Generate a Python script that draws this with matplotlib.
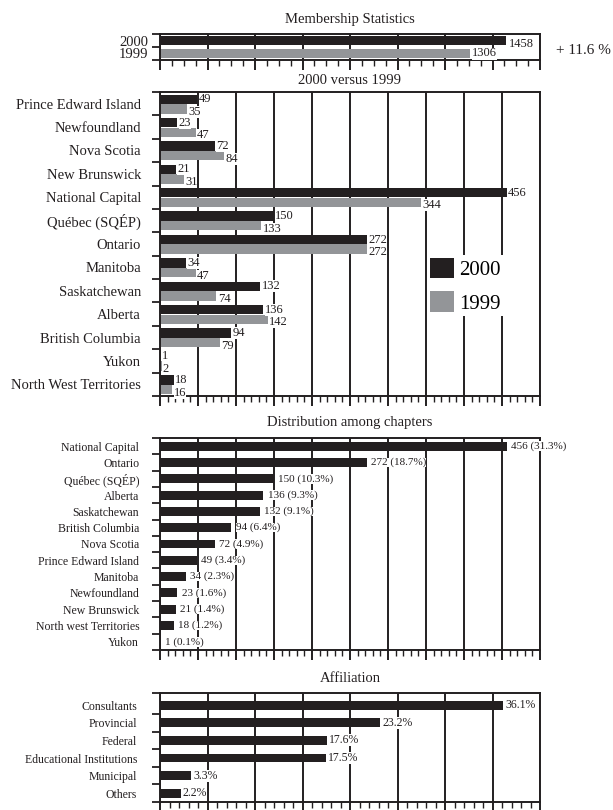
import matplotlib.pyplot as plt
from matplotlib.ticker import MultipleLocator

plt.rcParams['font.family'] = ['Liberation Serif', 'DejaVu Serif']

# membership totals
years = ["2000", "1999"]
totals = [1458, 1306]
growth = "+ 11.6 %"

# 2000 versus 1999 by chapter
chapters = ["Prince Edward Island", "Newfoundland", "Nova Scotia", "New Brunswick",
            "National Capital", "Québec (SQÉP)", "Ontario", "Manitoba", "Saskatchewan",
            "Alberta", "British Columbia", "Yukon", "North West Territories"]
members_2000 = [49, 23, 72, 21, 456, 150, 272, 34, 132, 136, 94, 1, 18]
members_1999 = [35, 47, 84, 31, 344, 133, 272, 47, 74, 142, 79, 2, 16]

# distribution among chapters
dist_chapters = ["National Capital", "Ontario", "Québec (SQÉP)", "Alberta", "Saskatchewan",
                 "British Columbia", "Nova Scotia", "Prince Edward Island", "Manitoba",
                 "Newfoundland", "New Brunswick", "North west Territories", "Yukon"]
dist_members = [456, 272, 150, 136, 132, 94, 72, 49, 34, 23, 21, 18, 1]
dist_pct = ["31.3", "18.7", "10.3", "9.3", "9.1", "6.4", "4.9", "3.4", "2.3", "1.6", "1.4", "1.2", "0.1"]

# affiliation
affiliations = ["Consultants", "Provincial", "Federal", "Educational Institutions", "Municipal", "Others"]
affil_pct = [36.1, 23.2, 17.6, 17.5, 3.3, 2.2]

ink = '#231f20'
grey = '#939598'

fig = plt.figure(figsize=(6.13, 8.10), dpi=100)


def make_axes(top, bottom):
    # top / bottom given in pixels from top of the figure
    return fig.add_axes([160 / 613, 1 - bottom / 810, 380 / 613, (bottom - top) / 810])


def setup(ax, xmax, major, minor, n, pad, ytop=-0.5):
    ax.set_xlim(0, xmax)
    ax.set_ylim(n - 0.5, ytop)
    ax.xaxis.set_major_locator(MultipleLocator(major))
    ax.xaxis.set_minor_locator(MultipleLocator(minor))
    ax.tick_params(axis='x', which='major', direction='out', length=7, width=1.4, color=ink, labelbottom=False)
    ax.tick_params(axis='x', which='minor', direction='out', length=4, width=1.0, color=ink)
    ax.set_yticks([ytop] + [i + 0.5 for i in range(n)], minor=True)
    ax.tick_params(axis='y', which='major', length=0, pad=pad, colors=ink)
    ax.tick_params(axis='y', which='minor', direction='out', length=5.5, width=1.3, color=ink)
    ax.grid(axis='x', which='major', color=ink, linewidth=1.4)
    ax.set_axisbelow(True)
    for s in ax.spines.values():
        s.set_linewidth(1.4)
        s.set_color(ink)


def label_bars(ax, bars, texts, size, dx, dy):
    for bar, txt in zip(bars, texts):
        ax.annotate(txt, (bar.get_width(), bar.get_y() + bar.get_height() / 2),
                    xytext=(dx, dy), textcoords='offset points', ha='left', va='center',
                    fontsize=size, color=ink, zorder=4,
                    bbox=dict(boxstyle='square,pad=0', fc='white', ec='none'))


# --- Membership Statistics
ax1 = make_axes(34, 60)
b = ax1.barh([0, 1], totals, height=0.75, color=[ink, grey], zorder=2)
setup(ax1, 1600, 200, 50, 2, 8.6)
ax1.set_yticks([0, 1], years, fontsize=10.5)
label_bars(ax1, [b[0]], [str(totals[0])], 9, 2, -2.5)
label_bars(ax1, [b[1]], [str(totals[1])], 9, 1, 0)
fig.text(350 / 613, 1 - 20 / 810, "Membership Statistics", ha='center', va='center', fontsize=10.5, color=ink)
fig.text(556 / 613, 1 - 51 / 810, growth, ha='left', va='center', fontsize=11, color=ink)

# --- 2000 versus 1999
ax2 = make_axes(92, 396)
ypos = list(range(len(chapters)))
b2000 = ax2.barh([y - 0.19 for y in ypos], members_2000, height=0.4, color=ink, zorder=2)
b1999 = ax2.barh([y + 0.22 for y in ypos], members_1999, height=0.4, color=grey, zorder=2)
setup(ax2, 500, 50, 10, len(chapters), 13.7)
ax2.set_yticks(ypos, chapters, fontsize=10.5)
label_bars(ax2, b2000, [str(v) for v in members_2000], 9, 1, 0)
label_bars(ax2, b1999, [str(v) for v in members_1999], 9, 1, -2.2)
ax2.legend([b2000, b1999], years, loc='upper left', bbox_to_anchor=(427 / 613, 1 - 255 / 810),
           bbox_transform=fig.transFigure, fontsize=15, frameon=True, facecolor='white',
           edgecolor='none', framealpha=1, fancybox=False, borderpad=0.12, borderaxespad=0,
           handlelength=1.16, handleheight=1.16, handletextpad=0.25, labelspacing=0.55)
fig.text(350 / 613, 1 - 81 / 810, "2000 versus 1999", ha='center', va='center', fontsize=10.5, color=ink)

# --- Distribution among chapters
ax3 = make_axes(438, 650)
ypos = list(range(len(dist_chapters)))
b3 = ax3.barh(ypos, dist_members, height=0.55, color=ink, zorder=2)
setup(ax3, 500, 50, 10, len(dist_chapters), 15)
ax3.set_yticks(ypos, dist_chapters, fontsize=8.5)
label_bars(ax3, b3, [f"{v} ({p}%)" for v, p in zip(dist_members, dist_pct)], 8, 3, 0)
fig.text(350 / 613, 1 - 422 / 810, "Distribution among chapters", ha='center', va='center', fontsize=10.5, color=ink)

# --- Affiliation
ax4 = make_axes(693, 802)
ypos = list(range(len(affiliations)))
b4 = ax4.barh(ypos, affil_pct, height=0.5, color=ink, zorder=2)
setup(ax4, 40, 5, 1, len(affiliations), 16.5, ytop=-0.7)
ax4.set_yticks(ypos, affiliations, fontsize=8.5)
label_bars(ax4, b4, [f"{v}%" for v in affil_pct], 8.5, 1.5, 0)
fig.text(350 / 613, 1 - 678 / 810, "Affiliation", ha='center', va='center', fontsize=10.5, color=ink)

plt.savefig("out.png", dpi=100)
